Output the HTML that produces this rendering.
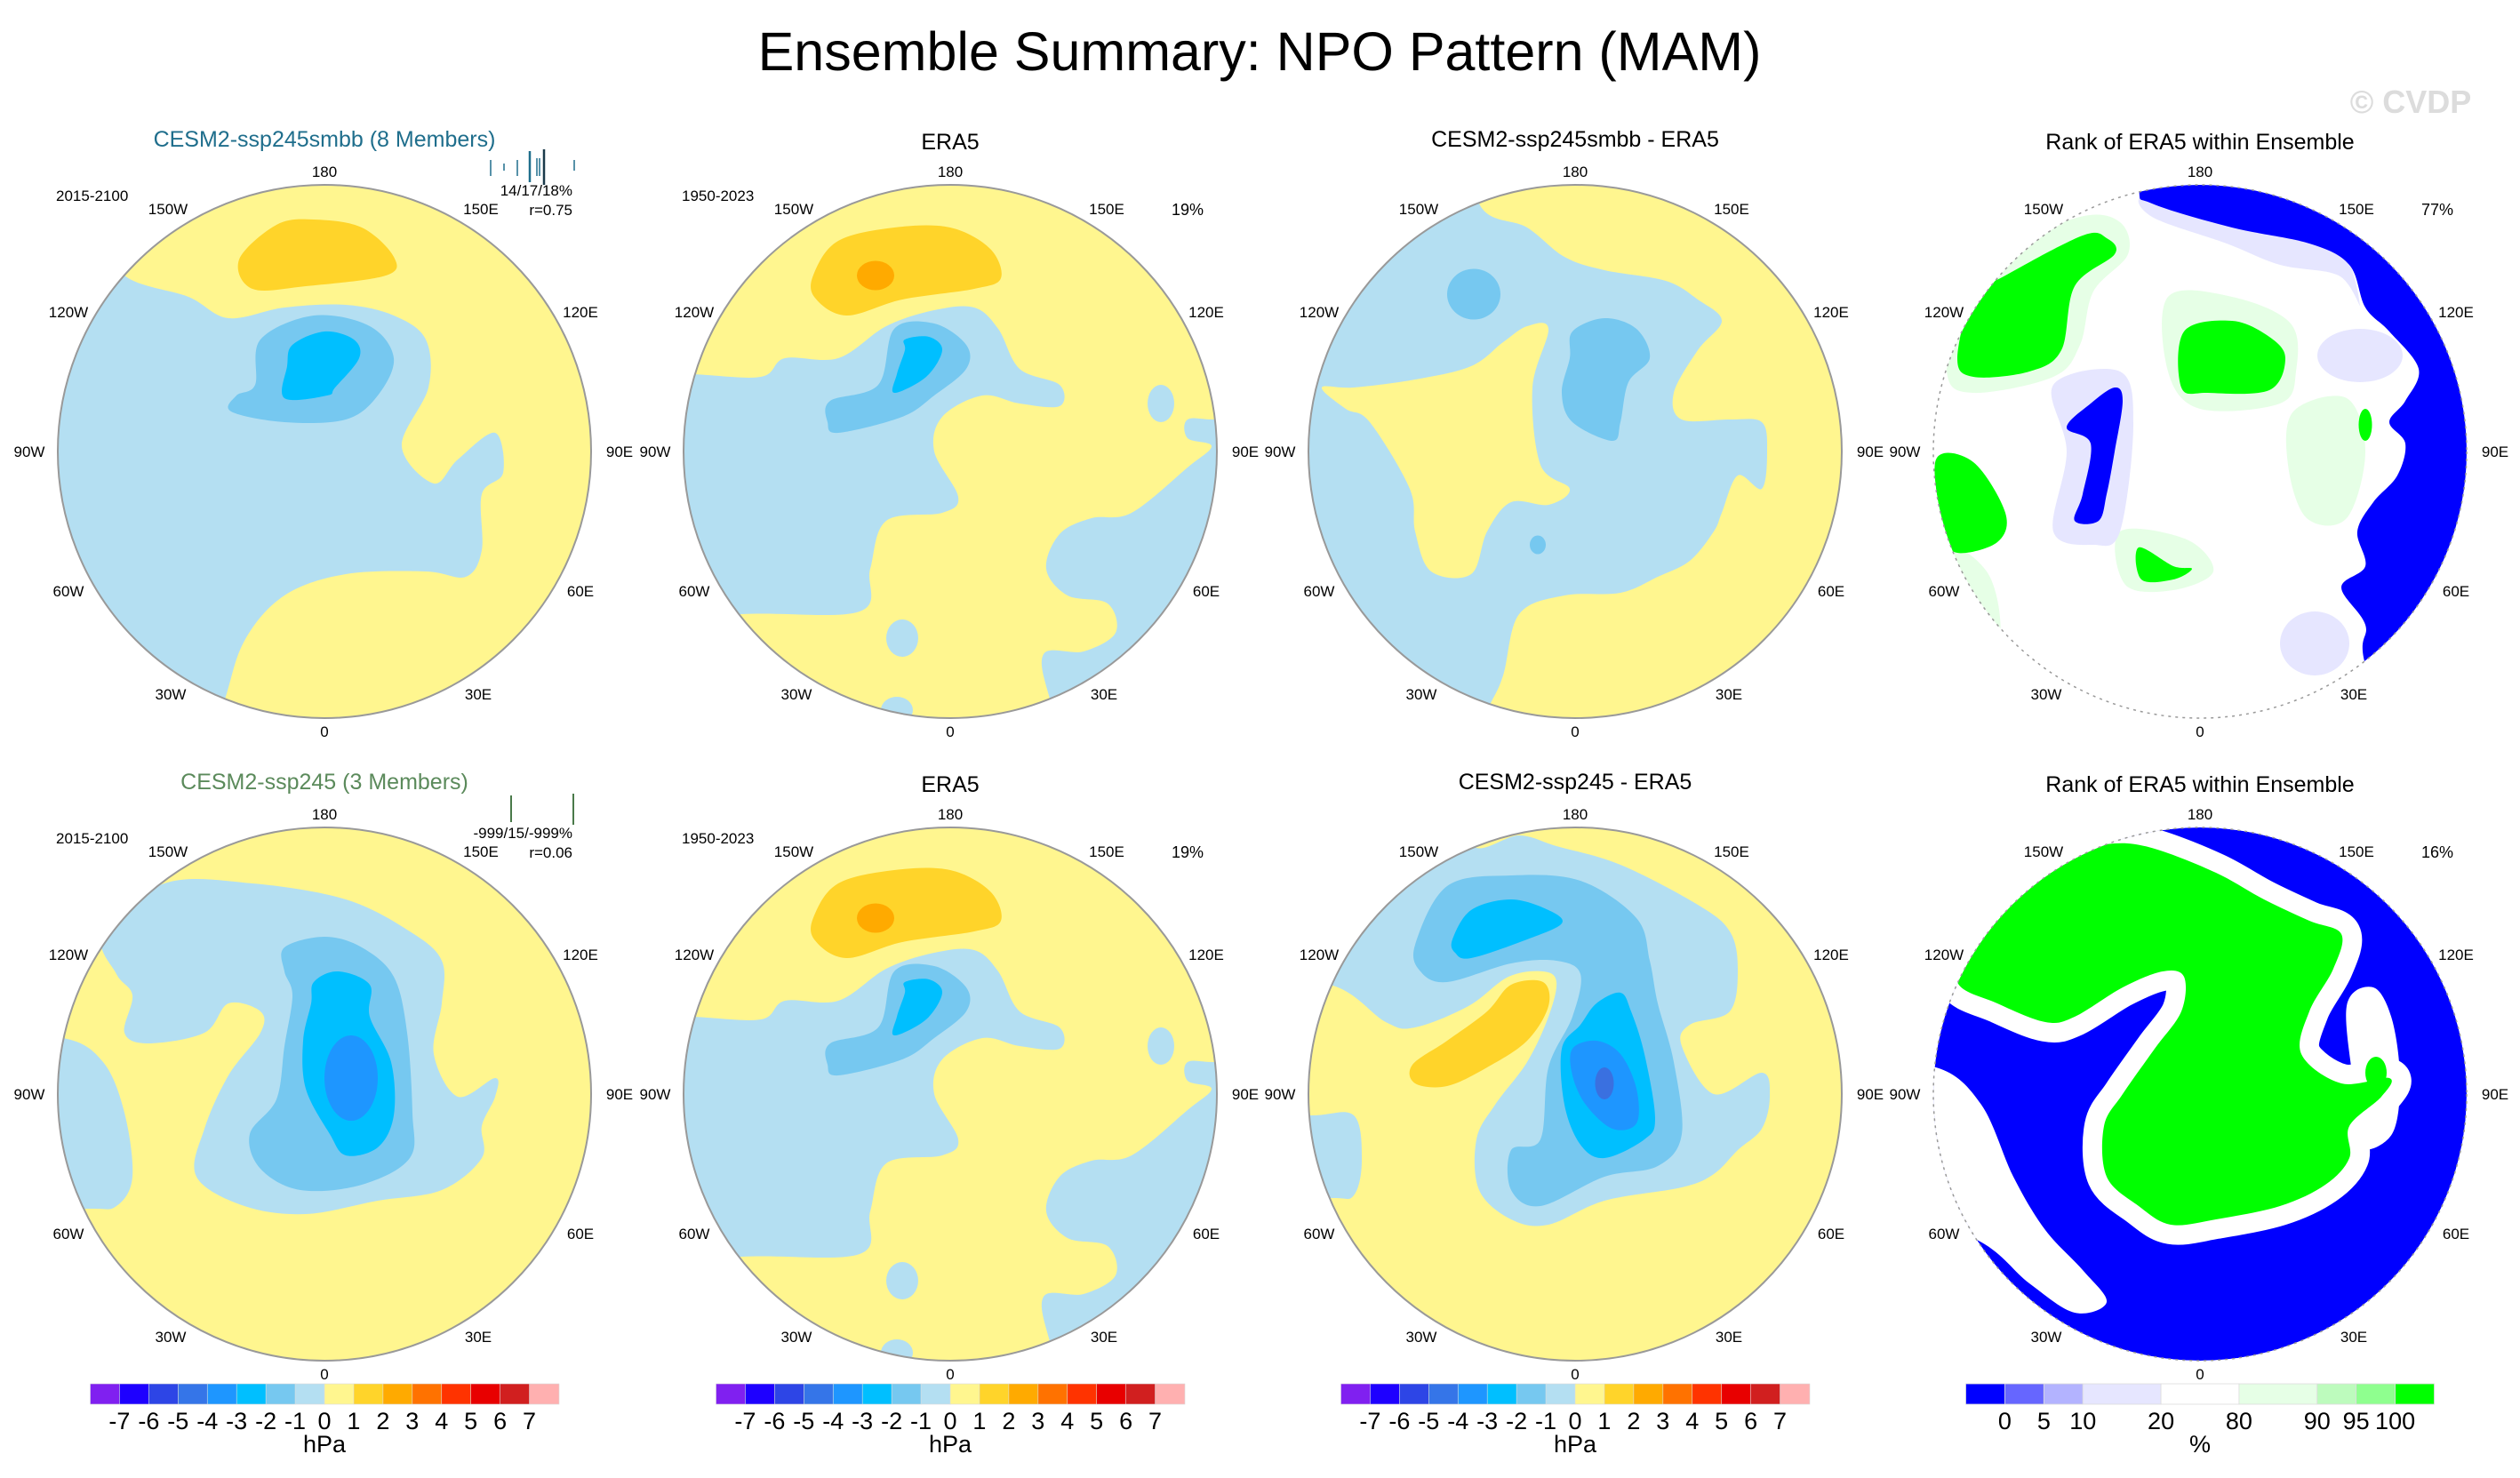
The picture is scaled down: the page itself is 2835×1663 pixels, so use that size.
<!DOCTYPE html>
<html><head><meta charset="utf-8">
<style>
html,body{margin:0;padding:0;background:#fff;}
svg{display:block;font-family:"Liberation Sans",Arial,sans-serif;}
</style></head>
<body>
<svg id="fig" width="2835" height="1663" viewBox="0 0 2835 1663" xmlns="http://www.w3.org/2000/svg">
<rect width="2835" height="1663" fill="#fff"/>
<text x="1417" y="79" font-size="61" text-anchor="middle" fill="#000">Ensemble Summary: NPO Pattern (MAM)</text>
<text x="2712" y="127" font-size="36" font-weight="bold" text-anchor="middle" fill="#dcdcdc">© CVDP</text>
<g id="maps"></g>
</svg>
<script>
// ---- colorbar data ----
const hpaLabels = ["-7","-6","-5","-4","-3","-2","-1","0","1","2","3","4","5","6","7"];
const hpaColors = ["#8020f0","#1e00ff","#2d45e6","#3575e8","#1e96ff","#00bfff","#76c8f0","#b4dff2","#fff68f","#ffd42a","#ffaa00","#ff7200","#ff3300","#e80000","#d11f1f","#ffb0b0"];
const rankLabels = ["0","5","10","20","80","90","95","100"];
const rankColors = ["#0000ff","#6666ff","#b3b3ff","#e6e6ff","#ffffff","#e6ffe6","#bdfbbd","#8fff8f","#00ff00"];
const rankUnits = [1,1,1,2,2,2,1,1,1];

// ---- map field shapes (normalized polar-plot coordinates) ----
const LB="#b4dff2", MB="#76c8f0", CY="#00bfff", DB="#1e96ff", DD="#3a70e0", YO="#ffd42a", OR="#ffaa00";
const BL="#0000ff", GR="#00ff00", LG="#e6ffe6", LV="#e6e6ff";

const p1Layers = [
 {fill:LB, pts:[[-0.75,-0.66],[-0.51,-0.58],[-0.36,-0.5],[-0.15,-0.54],[0.08,-0.55],[0.26,-0.51],[0.38,-0.42],[0.39,-0.24],[0.29,-0.02],[0.41,0.12],[0.5,0.03],[0.64,-0.07],[0.67,0.08],[0.59,0.16],[0.59,0.37],[0.53,0.47],[0.38,0.45],[0.08,0.46],[-0.15,0.54],[-0.3,0.71],[-0.38,0.95],[-0.5,1.3],[-1.3,1.3],[-1.3,-0.8],[-0.85,-0.85]]},
 {fill:YO, pts:[[-0.32,-0.72],[-0.18,-0.85],[-0.04,-0.87],[0.14,-0.84],[0.26,-0.73],[0.23,-0.66],[-0.07,-0.62],[-0.27,-0.61]]},
 {fill:MB, pts:[[-0.24,-0.42],[-0.04,-0.51],[0.17,-0.47],[0.26,-0.35],[0.2,-0.21],[0.08,-0.12],[-0.15,-0.11],[-0.35,-0.15],[-0.33,-0.21],[-0.26,-0.25]]},
 {fill:CY, pts:[[-0.12,-0.4],[0,-0.45],[0.11,-0.42],[0.13,-0.35],[0.04,-0.24],[0.01,-0.21],[-0.15,-0.2],[-0.14,-0.32]]}
];
const p2Layers = [
 {fill:LB, pts:[[-0.97,-0.29],[-0.71,-0.28],[-0.62,-0.35],[-0.42,-0.35],[-0.24,-0.47],[-0.06,-0.53],[0.09,-0.54],[0.18,-0.46],[0.26,-0.31],[0.41,-0.25],[0.41,-0.17],[0.26,-0.18],[0.12,-0.21],[-0.03,-0.13],[-0.06,0],[0.03,0.17],[-0.03,0.23],[-0.24,0.26],[-0.3,0.44],[-0.34,0.6],[-0.78,0.61],[-1.3,0.65],[-1.3,-0.3]]},
 {fill:LB, pts:[[1.0,-0.12],[0.89,-0.12],[0.89,-0.05],[0.98,-0.02],[0.89,0.06],[0.68,0.23],[0.53,0.25],[0.41,0.31],[0.36,0.44],[0.44,0.54],[0.59,0.57],[0.62,0.68],[0.5,0.75],[0.35,0.76],[0.38,0.95],[0.5,1.3],[1.3,1.3],[1.3,-0.12]]},
 {fill:LB, ell:[0.79,-0.18,0.05,0.07]},
 {fill:LB, ell:[-0.18,0.7,0.06,0.07]},
 {fill:LB, ell:[-0.2,0.97,0.06,0.05]},
 {fill:YO, pts:[[-0.51,-0.67],[-0.42,-0.79],[-0.21,-0.84],[0,-0.84],[0.15,-0.76],[0.19,-0.65],[0.09,-0.61],[-0.18,-0.57],[-0.39,-0.51],[-0.51,-0.58]]},
 {fill:OR, ell:[-0.28,-0.66,0.07,0.055]},
 {fill:MB, pts:[[-0.45,-0.19],[-0.27,-0.25],[-0.21,-0.46],[-0.06,-0.48],[0.06,-0.4],[0.06,-0.31],[-0.06,-0.21],[-0.18,-0.13],[-0.42,-0.07],[-0.46,-0.11]]},
 {fill:CY, pts:[[-0.17,-0.42],[-0.08,-0.43],[-0.03,-0.38],[-0.09,-0.28],[-0.21,-0.22],[-0.2,-0.29],[-0.17,-0.38]]}
];
const p3Layers = [
 {fill:LB, pts:[[-0.36,-0.93],[-0.18,-0.84],[-0.04,-0.73],[0.11,-0.68],[0.34,-0.64],[0.46,-0.57],[0.55,-0.49],[0.46,-0.38],[0.37,-0.22],[0.4,-0.12],[0.58,-0.12],[0.7,-0.11],[0.72,0],[0.7,0.14],[0.61,0.09],[0.55,0.23],[0.52,0.3],[0.43,0.41],[0.31,0.47],[0.17,0.53],[-0.04,0.54],[-0.21,0.61],[-0.27,0.84],[-0.33,0.97],[-0.5,1.3],[-1.3,1.3],[-1.3,-1.3],[-0.4,-1.3]]},
 {fill:"#fff68f", pts:[[-0.95,-0.24],[-0.86,-0.16],[-0.77,-0.11],[-0.62,0.14],[-0.6,0.3],[-0.54,0.45],[-0.39,0.46],[-0.33,0.3],[-0.24,0.19],[-0.1,0.2],[-0.02,0.14],[-0.13,0.05],[-0.16,-0.24],[-0.1,-0.46],[-0.18,-0.47],[-0.27,-0.41],[-0.39,-0.32],[-0.6,-0.27],[-0.83,-0.24]]},
 {fill:MB, ell:[-0.38,-0.59,0.1,0.095]},
 {fill:MB, pts:[[-0.01,-0.45],[0.11,-0.5],[0.23,-0.46],[0.28,-0.35],[0.2,-0.26],[0.17,-0.11],[0.14,-0.04],[-0.01,-0.11],[-0.05,-0.22],[-0.02,-0.35]]},
 {fill:MB, ell:[-0.14,0.35,0.03,0.035]}
];
const p4Layers = [
 {fill:LG, pts:[[-0.95,-0.3],[-0.9,-0.62],[-0.75,-0.75],[-0.45,-0.88],[-0.3,-0.86],[-0.27,-0.74],[-0.4,-0.6],[-0.45,-0.4],[-0.55,-0.28],[-0.85,-0.22]]},
 {fill:LG, pts:[[-1.0,0.35],[-0.8,0.45],[-0.75,0.7],[-0.85,0.8],[-1.2,0.6]]},
 {fill:LG, pts:[[0.35,-0.15],[0.55,-0.2],[0.62,0.0],[0.55,0.25],[0.4,0.25],[0.33,0.05]]},
 {fill:LG, pts:[[-0.12,-0.58],[0.12,-0.58],[0.34,-0.48],[0.36,-0.3],[0.3,-0.18],[0.0,-0.16],[-0.12,-0.3]]},
 {fill:LG, pts:[[-0.3,0.3],[-0.05,0.33],[0.05,0.45],[-0.1,0.52],[-0.28,0.5]]},
 {fill:LV, pts:[[-0.55,-0.25],[-0.3,-0.3],[-0.25,-0.1],[-0.3,0.3],[-0.4,0.35],[-0.55,0.3],[-0.5,0.0]]},
 {fill:LV, ell:[0.43,0.72,0.13,0.12]},
 {fill:LV, ell:[0.6,-0.36,0.16,0.1]},
 {fill:LV, pts:[[-0.2,-0.96],[0.15,-0.9],[0.5,-0.8],[0.6,-0.55],[0.52,-0.66],[0.3,-0.7],[0.1,-0.78],[-0.18,-0.88]]},
 {fill:BL, pts:[[-0.23,-0.99],[-0.18,-0.93],[0.12,-0.84],[0.41,-0.78],[0.56,-0.7],[0.62,-0.54],[0.71,-0.45],[0.82,-0.31],[0.77,-0.19],[0.71,-0.11],[0.77,-0.03],[0.74,0.09],[0.65,0.19],[0.59,0.3],[0.62,0.43],[0.53,0.51],[0.62,0.65],[0.62,0.8],[0.8,1.3],[1.3,1.3],[1.3,-1.3],[-0.23,-1.3]]},
 {fill:GR, pts:[[-0.91,-0.35],[-0.85,-0.58],[-0.73,-0.66],[-0.44,-0.81],[-0.35,-0.8],[-0.32,-0.74],[-0.47,-0.62],[-0.52,-0.38],[-0.64,-0.3],[-0.85,-0.28]]},
 {fill:GR, pts:[[-0.06,-0.45],[0.12,-0.49],[0.26,-0.43],[0.32,-0.35],[0.26,-0.23],[0.03,-0.22],[-0.07,-0.24]]},
 {fill:GR, pts:[[-0.99,0.03],[-0.85,0.04],[-0.73,0.23],[-0.76,0.34],[-0.91,0.38],[-0.96,0.3]]},
 {fill:GR, pts:[[-0.23,0.36],[-0.1,0.43],[-0.03,0.44],[-0.1,0.48],[-0.22,0.48]]},
 {fill:GR, ell:[0.62,-0.1,0.025,0.06]},
 {fill:BL, pts:[[-0.32,-0.24],[-0.29,-0.19],[-0.32,0],[-0.35,0.16],[-0.38,0.26],[-0.47,0.26],[-0.44,0.16],[-0.41,-0.03],[-0.5,-0.09],[-0.41,-0.18]]}
];
const p5Layers = [
 {fill:LB, pts:[[-0.83,-0.6],[-0.6,-0.79],[-0.27,-0.79],[0.08,-0.73],[0.32,-0.61],[0.44,-0.5],[0.44,-0.34],[0.41,-0.15],[0.5,0.01],[0.64,-0.06],[0.64,0.01],[0.59,0.12],[0.59,0.24],[0.44,0.36],[0.2,0.4],[-0.07,0.45],[-0.3,0.42],[-0.48,0.31],[-0.45,0.13],[-0.36,-0.07],[-0.24,-0.23],[-0.24,-0.31],[-0.36,-0.34],[-0.45,-0.23],[-0.66,-0.19],[-0.75,-0.23],[-0.72,-0.37],[-0.78,-0.45]]},
 {fill:LB, pts:[[-0.98,-0.21],[-0.83,-0.12],[-0.75,0.07],[-0.72,0.31],[-0.78,0.42],[-0.89,0.43],[-1.3,0.43],[-1.3,-0.21]]},
 {fill:MB, pts:[[-0.15,-0.55],[0,-0.59],[0.14,-0.55],[0.26,-0.44],[0.31,-0.23],[0.33,0.07],[0.32,0.24],[0.14,0.34],[-0.09,0.36],[-0.24,0.28],[-0.28,0.15],[-0.18,0.02],[-0.15,-0.18],[-0.12,-0.37],[-0.15,-0.46]]},
 {fill:CY, pts:[[-0.04,-0.42],[0.05,-0.46],[0.17,-0.41],[0.17,-0.29],[0.25,-0.12],[0.26,0.08],[0.2,0.2],[0.08,0.23],[0.02,0.15],[-0.07,-0.02],[-0.08,-0.2],[-0.05,-0.34]]},
 {fill:DB, ell:[0.1,-0.06,0.1,0.16]}
];
const p7Layers = [
 {fill:LB, pts:[[-0.39,-0.94],[-0.21,-0.97],[-0.07,-0.93],[0.17,-0.86],[0.46,-0.71],[0.58,-0.61],[0.61,-0.47],[0.58,-0.31],[0.43,-0.26],[0.4,-0.18],[0.52,0],[0.7,-0.08],[0.73,0.01],[0.7,0.13],[0.61,0.21],[0.52,0.3],[0.4,0.35],[0.11,0.4],[-0.1,0.49],[-0.24,0.47],[-0.36,0.36],[-0.37,0.17],[-0.3,0.04],[-0.18,-0.12],[-0.1,-0.29],[-0.07,-0.42],[-0.12,-0.46],[-0.25,-0.44],[-0.4,-0.33],[-0.6,-0.25],[-0.71,-0.27],[-0.92,-0.41],[-1.3,-0.41],[-1.3,-1.3],[-0.39,-1.3]]},
 {fill:LB, pts:[[-0.99,0.08],[-0.83,0.08],[-0.8,0.25],[-0.83,0.38],[-0.92,0.39],[-1.3,0.39],[-1.3,0.08]]},
 {fill:MB, pts:[[-0.6,-0.56],[-0.48,-0.78],[-0.24,-0.82],[0.02,-0.8],[0.23,-0.66],[0.28,-0.5],[0.31,-0.34],[0.37,-0.12],[0.4,0.15],[0.31,0.27],[0.11,0.31],[-0.13,0.42],[-0.24,0.36],[-0.24,0.21],[-0.13,0.17],[-0.1,-0.1],[-0.01,-0.29],[0.02,-0.45],[-0.07,-0.5],[-0.24,-0.49],[-0.48,-0.42],[-0.58,-0.46]]},
 {fill:YO, pts:[[-0.61,-0.11],[-0.48,-0.2],[-0.33,-0.31],[-0.24,-0.41],[-0.12,-0.42],[-0.1,-0.33],[-0.18,-0.2],[-0.33,-0.1],[-0.48,-0.03],[-0.6,-0.04]]},
 {fill:CY, pts:[[-0.46,-0.58],[-0.39,-0.69],[-0.24,-0.73],[-0.1,-0.69],[-0.05,-0.64],[-0.18,-0.58],[-0.39,-0.51],[-0.45,-0.53]]},
 {fill:CY, pts:[[0.08,-0.34],[0.17,-0.38],[0.21,-0.31],[0.26,-0.15],[0.3,0.09],[0.26,0.17],[0.11,0.24],[0.02,0.19],[-0.04,0.04],[-0.05,-0.17],[0.02,-0.26]]},
 {fill:DB, pts:[[-0.01,-0.17],[0.08,-0.2],[0.17,-0.15],[0.23,-0.02],[0.23,0.11],[0.14,0.13],[0.04,0.04],[-0.01,-0.07]]},
 {fill:DD, ell:[0.11,-0.04,0.035,0.06]}
];
const p8Green = [[-0.91,-0.42],[-0.85,-0.58],[-0.7,-0.77],[-0.47,-0.9],[-0.32,-0.94],[-0.17,-0.92],[0.06,-0.83],[0.24,-0.73],[0.41,-0.65],[0.53,-0.6],[0.5,-0.47],[0.41,-0.31],[0.38,-0.15],[0.53,-0.04],[0.71,-0.06],[0.68,0.01],[0.56,0.12],[0.56,0.24],[0.47,0.34],[0.3,0.42],[0.06,0.47],[-0.11,0.49],[-0.23,0.42],[-0.35,0.31],[-0.36,0.12],[-0.29,0],[-0.17,-0.17],[-0.07,-0.31],[-0.06,-0.44],[-0.14,-0.46],[-0.29,-0.4],[-0.47,-0.29],[-0.58,-0.27],[-0.76,-0.34]];
const p8Layers = [
 {fill:"#ffffff", stroke:44, pts:p8Green},
 {fill:"#ffffff", pts:[[-0.99,-0.1],[-0.82,0.04],[-0.7,0.31],[-0.58,0.51],[-0.44,0.66],[-0.35,0.78],[-0.47,0.82],[-0.64,0.71],[-0.85,0.54],[-1.3,0.4],[-1.3,-0.1]]},
 {fill:"#ffffff", pts:[[0.55,-0.33],[0.65,-0.4],[0.72,-0.28],[0.75,-0.05],[0.72,0.15],[0.6,0.2],[0.58,0.0]]},
 {fill:GR, pts:p8Green},
 {fill:GR, ell:[0.66,-0.08,0.04,0.06]}
];

// ---- layout ----
const colX = [365,1069,1772,2475];
const rowY = [508,1231];
const R = 300;
const panels = [
 {id:"p1", c:0, r:0, layers:p1Layers, base:"#fff68f", rank:false, title:"CESM2-ssp245smbb (8 Members)", tcol:"#1f6e8c", period:"2015-2100"},
 {id:"p2", c:1, r:0, layers:p2Layers, base:"#fff68f", rank:false, title:"ERA5", tcol:"#000", period:"1950-2023", pct:"19%"},
 {id:"p3", c:2, r:0, layers:p3Layers, base:"#fff68f", rank:false, title:"CESM2-ssp245smbb - ERA5", tcol:"#000"},
 {id:"p4", c:3, r:0, layers:p4Layers, base:"#ffffff", rank:true, title:"Rank of ERA5 within Ensemble", tcol:"#000", pct:"77%"},
 {id:"p5", c:0, r:1, layers:p5Layers, base:"#fff68f", rank:false, title:"CESM2-ssp245 (3 Members)", tcol:"#5b8a5b", period:"2015-2100"},
 {id:"p6", c:1, r:1, layers:p2Layers, base:"#fff68f", rank:false, title:"ERA5", tcol:"#000", period:"1950-2023", pct:"19%"},
 {id:"p7", c:2, r:1, layers:p7Layers, base:"#fff68f", rank:false, title:"CESM2-ssp245 - ERA5", tcol:"#000"},
 {id:"p8", c:3, r:1, layers:p8Layers, base:BL, rank:true, title:"Rank of ERA5 within Ensemble", tcol:"#000", pct:"16%"}
];
const lonLabels = ["180","150E","120E","90E","60E","30E","0","30W","60W","90W","120W","150W"];
const lonOffsets = [[0,-315],[176,-273],[288,-157],[332,0],[288,157],[173,273],[0,315],[-173,273],[-288,157],[-332,0],[-288,-157],[-176,-273]];

const NS="http://www.w3.org/2000/svg";
const root=document.getElementById("maps");
function mk(tag, attrs, parent){const e=document.createElementNS(NS,tag);for(const k in attrs)e.setAttribute(k,attrs[k]);(parent||root).appendChild(e);return e;}
function smooth(pts){
 const n=pts.length;let d="M"+pts[0][0].toFixed(1)+","+pts[0][1].toFixed(1);
 for(let i=0;i<n;i++){
  const p0=pts[(i-1+n)%n],p1=pts[i],p2=pts[(i+1)%n],p3=pts[(i+2)%n];
  const c1=[p1[0]+(p2[0]-p0[0])/6,p1[1]+(p2[1]-p0[1])/6];
  const c2=[p2[0]-(p3[0]-p1[0])/6,p2[1]-(p3[1]-p1[1])/6];
  d+="C"+c1[0].toFixed(1)+","+c1[1].toFixed(1)+" "+c2[0].toFixed(1)+","+c2[1].toFixed(1)+" "+p2[0].toFixed(1)+","+p2[1].toFixed(1);
 }
 return d+"Z";
}
function txt(x,y,s,size,anchor,fill,name,parent){
 const t=mk("text",{x:x,y:y,"font-size":size,"text-anchor":anchor,fill:fill},parent);
 
 
 t.textContent=s;return t;
}

panels.forEach(p=>{
 const cx=colX[p.c], cy=rowY[p.r];
 const g=mk("g",{});
 
 
 const cp=mk("clipPath",{id:"clip-"+p.id},g);
 mk("circle",{cx:cx,cy:cy,r:R},cp);
 const mg=mk("g",{"clip-path":"url(#clip-"+p.id+")"},g);
 
 
 const bg=mk("circle",{cx:cx,cy:cy,r:R,fill:p.base},mg);
 
 
 p.layers.forEach((L,i)=>{
  let el;
  if(L.ell){
   el=mk("ellipse",{cx:cx+L.ell[0]*R,cy:cy+L.ell[1]*R,rx:L.ell[2]*R,ry:L.ell[3]*R,fill:L.fill},mg);
  } else {
   const pts=L.pts.map(q=>[cx+q[0]*R,cy+q[1]*R]);
   const attrs={d:smooth(pts),fill:L.fill};
   if(L.stroke){attrs.stroke=L.fill;attrs["stroke-width"]=L.stroke;attrs["stroke-linejoin"]="round";}
   el=mk("path",attrs,mg);
  }
  
  
 });
 const border=mk("circle",{cx:cx,cy:cy,r:R,fill:"none",stroke:"#999","stroke-width":p.rank?1.5:2,"stroke-dasharray":p.rank?"3 5":"none"},g);
 
 
 lonLabels.forEach((s,i)=>{
  txt(cx+lonOffsets[i][0],cy+lonOffsets[i][1]+6,s,17,"middle","#000","lon-label-"+s,g);
 });
 const ty = p.r===0 ? (p.c===0||p.c===2?165:168) : (p.c===0||p.c===2?888:891);
 txt(cx,ty,p.title,25,"middle",p.tcol,"panel-title",g);
 if(p.period) txt(cx-302,cy-282,p.period,17,"start","#000","period-label",g);
 if(p.pct) txt(cx+285,cy-266,p.pct,18,"end","#000","pattern-correlation-pct",g);
});

// extra stats text
txt(644,220,"14/17/18%",17,"end","#000","stats-percent-row1");
txt(644,242,"r=0.75",17,"end","#000","stats-r-row1");
txt(644,943,"-999/15/-999%",17,"end","#000","stats-percent-row2");
txt(644,965,"r=0.06",17,"end","#000","stats-r-row2");
// small member tick marks
const tickXs1=[552,567,582,596,604,607,612,646];
const tickH1=[[180,198],[184,192],[180,198],[170,205],[178,198],[178,198],[168,208],[180,192]];
tickXs1.forEach((x,i)=>{const l=mk("line",{x1:x,x2:x,y1:tickH1[i][0],y2:tickH1[i][1],stroke:i===6?"#1a3a4a":"#1f6e8c","stroke-width":i===3||i===6?2.5:1.5});
 
 });
[[575,895,925],[645,893,928]].forEach(t=>{const l=mk("line",{x1:t[0],x2:t[0],y1:t[1],y2:t[2],stroke:"#4a7a4a","stroke-width":2});
 
 });

// ---- colorbars ----
const cbY=1557, cbH=23, cbW=527;
[0,1,2].forEach(c=>{
 const x0=colX[c]-cbW/2;
 const g=mk("g",{});
 
 
 const bw=cbW/hpaColors.length;
 hpaColors.forEach((col,i)=>{
  const r=mk("rect",{x:x0+i*bw,y:cbY,width:bw+0.5,height:cbH,fill:col,stroke:"#ddd","stroke-width":0.6},g);
  
  
 });
 hpaLabels.forEach((s,i)=>{
  txt(x0+(i+1)*bw,1608,s,27,"middle","#000","colorbar-tick-label",g);
 });
 txt(colX[c],1634,"hPa",27,"middle","#000","colorbar-units",g);
});
(function(){
 const x0=colX[3]-cbW/2;
 const g=mk("g",{});
 
 
 const total=rankUnits.reduce((a,b)=>a+b,0);
 const u=cbW/total;
 let acc=0; const edges=[];
 rankColors.forEach((col,i)=>{
  const r=mk("rect",{x:x0+acc*u,y:cbY,width:rankUnits[i]*u,height:cbH,fill:col,stroke:"#ddd","stroke-width":0.8},g);
  
  
  acc+=rankUnits[i]; edges.push(acc);
 });
 rankLabels.forEach((s,i)=>{
  txt(x0+edges[i]*u,1608,s,27,"middle","#000","colorbar-tick-label",g);
 });
 txt(colX[3],1634,"%",27,"middle","#000","colorbar-units",g);
})();
</script>
</body></html>
